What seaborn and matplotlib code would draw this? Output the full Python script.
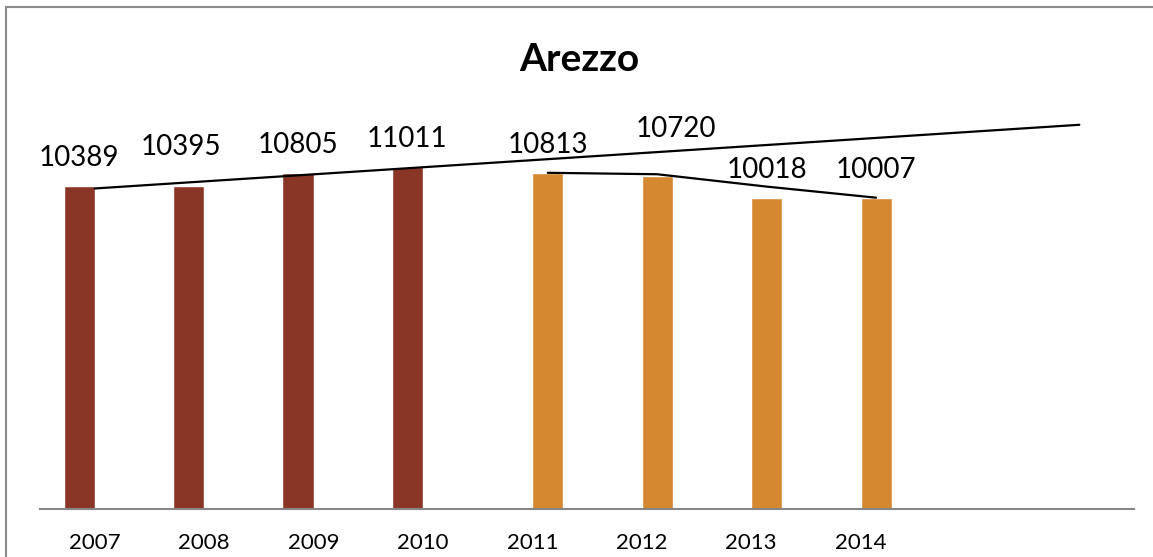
import numpy as np
import pandas as pd
import matplotlib
matplotlib.use("Agg")
import matplotlib.pyplot as plt
from matplotlib.patches import Rectangle
import seaborn as sns

# ---- data ----
years = ["2007", "2008", "2009", "2010", "2011", "2012", "2013", "2014"]
values = [10389, 10395, 10805, 11011, 10813, 10720, 10018, 10007]
series = ["A", "A", "A", "A", "B", "B", "B", "B"]
title = "Arezzo"

# ---- layout tweaks (pixels) for data labels ----
label_dx = [0, -8, 0, 0, 0, 19, 0, 0]
label_dy = [20, 31, 20, 20, 20, 39, 20, 20]

sns.set_style("white")
plt.rcParams["font.family"] = ["Lato", "DejaVu Sans"]

W, H, DPI = 1153, 557, 100
fig = plt.figure(figsize=(W / DPI, H / DPI), dpi=DPI)
ax = fig.add_axes([40 / W, (H - 509) / H, 1094 / W, 435.3 / H])

df = pd.DataFrame({"year": years, "value": values, "series": series})
palette = {"A": "#8A3626", "B": "#D68830"}
bar_w = 0.567
sns.barplot(data=df, x="year", y="value", hue="series", order=years,
            hue_order=["A", "B"], palette=palette, width=bar_w, dodge=True,
            saturation=1, legend=False, ax=ax, errorbar=None)

ax.set_xlim(-0.5, 9.5)
ax.set_ylim(0, 14000)
off = bar_w / 4

# linear trendline of first series with forward forecast
xa = np.array([i for i, s in enumerate(series) if s == "A"], dtype=float)
ya = np.array([v for v, s in zip(values, series) if s == "A"], dtype=float)
k, b = np.polyfit(xa, ya, 1)
xt = np.array([xa[0], xa[-1] + 6])
sns.lineplot(x=xt, y=k * xt + b, color="black", lw=1.6, ax=ax)

# moving average (period 2) line for second series
xb = np.array([i for i, s in enumerate(series) if s == "B"], dtype=float)
yb = pd.Series([v for v, s in zip(values, series) if s == "B"], dtype=float)
ma = yb.rolling(2, min_periods=1).mean().to_numpy()
sns.lineplot(x=xb + off, y=ma, color="black", lw=1.6, ax=ax)

# data labels
for i, (v, s) in enumerate(zip(values, series)):
    xc = i - off if s == "A" else i + off
    ax.annotate(str(v), (xc, v), xytext=(label_dx[i], label_dy[i]),
                textcoords="offset pixels", ha="center", va="baseline",
                fontsize=20, color="black")

ax.set_xlabel("")
ax.set_ylabel("")
ax.set_yticks([])
ax.tick_params(axis="x", length=0, pad=17, labelsize=16, labelcolor="black")
for sp in ["top", "right", "left"]:
    ax.spines[sp].set_visible(False)
ax.spines["bottom"].set_color("#868686")
ax.spines["bottom"].set_linewidth(1.5)

fig.text(579 / W, 1 - 70.7 / H, title, ha="center", va="baseline",
         fontsize=28, fontweight="bold", color="black")

fig.add_artist(Rectangle((6 / W, -0.1), 1.2, (H - 7) / H + 0.1,
                         transform=fig.transFigure, fill=False,
                         edgecolor="#8C8C8C", lw=1.5))

fig.savefig("out.png", dpi=DPI)
